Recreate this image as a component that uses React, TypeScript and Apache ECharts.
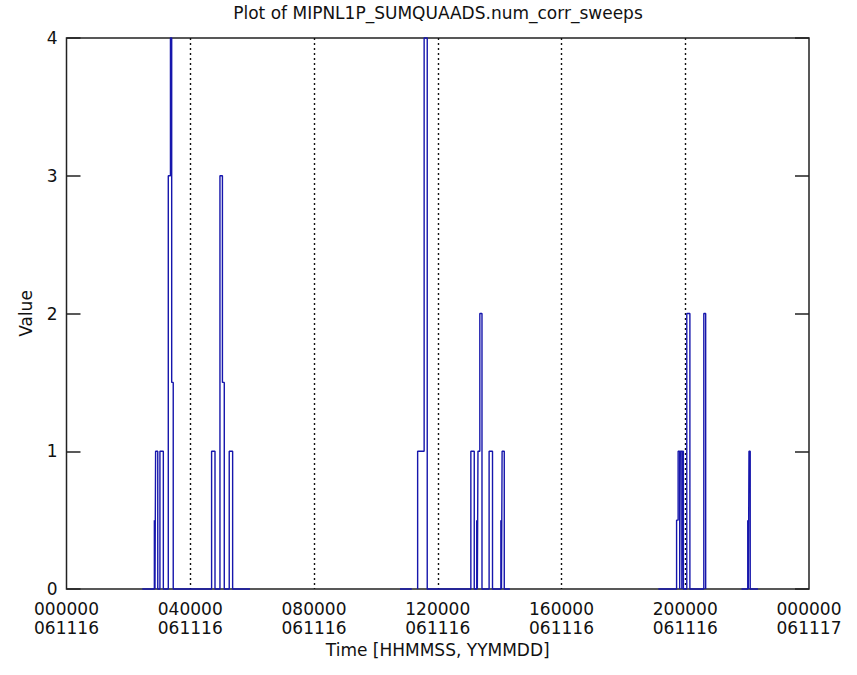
import React, { useEffect, useRef } from "react";
import * as echarts from "echarts";

const TITLE = "Plot of MIPNL1P_SUMQUAADS.num_corr_sweeps";
const X_NAME = "Time [HHMMSS, YYMMDD]";
const Y_NAME = "Value";

const hourTicks = [0, 4, 8, 12, 16, 20, 24];
const timeLabels = ["000000", "040000", "080000", "120000", "160000", "200000", "000000"];
const dateLabels = ["061116", "061116", "061116", "061116", "061116", "061116", "061117"];

// Step edges in hours since 000000 061116: value holds from time until the next time.
const cluster1Times = [2.45, 2.84, 2.86, 2.88, 2.95, 3.02, 3.13, 3.29, 3.36, 3.40, 3.45, 4.69, 4.80, 4.96, 5.04, 5.10, 5.26, 5.37, 5.93, 5.93];
const cluster1Values = [0, 0.5, 0, 1, 0, 1, 0, 3, 4, 1.5, 0, 1, 0, 3, 1.5, 0, 1, 0, 0, null];

const cluster2Times = [10.78, 11.16, 11.16, 11.35, 11.35, 11.56, 11.66, 13.07, 13.18, 13.26, 13.28, 13.30, 13.36, 13.43, 13.66, 13.77, 14.04, 14.06, 14.08, 14.15, 14.33, 14.33];
const cluster2Values = [0, 0, null, 0, 1, 4, 0, 1, 0, 0.5, 0, 1, 2, 0, 1, 0, 0.5, 0, 1, 0, 0, null];

const cluster3Times = [19.13, 19.72, 19.77, 19.82, 19.84, 19.89, 19.91, 19.94, 20.05, 20.15, 20.60, 20.66, 20.66, 21.82, 22.02, 22.04, 22.06, 22.10, 22.35];
const cluster3Values = [0, 0.5, 1, 0, 1, 0, 1, 0, 2, 0, 2, 0, null, 0, 0.5, 0, 1, 0, 0];

const FONT = "DejaVu Sans";

export default function App() {
  const ref = useRef<HTMLDivElement>(null);

  useEffect(() => {
    document.body.style.margin = "0";
    if (!ref.current) return;
    const chart = echarts.init(ref.current, undefined, { renderer: "svg" });

    const times = [...cluster1Times, ...cluster2Times, ...cluster3Times];
    const values = [...cluster1Values, ...cluster2Values, ...cluster3Values];
    const data = times.map((t, i) => [t, values[i]]);

    chart.setOption({
      animation: false,
      backgroundColor: "#ffffff",
      textStyle: { fontFamily: FONT },
      graphic: [
        {
          type: "text",
          x: 438,
          y: 4,
          style: {
            text: TITLE,
            textAlign: "center",
            textVerticalAlign: "top",
            font: `17px "${FONT}"`,
            fill: "#111111",
          },
        },
      ],
      grid: {
        left: 66.5,
        right: 48,
        top: 38,
        bottom: 86,
        containLabel: false,
        outerBoundsMode: "none",
        show: true,
        borderColor: "#222222",
        borderWidth: 1.5,
        backgroundColor: "transparent",
      },
      xAxis: {
        type: "value",
        min: 0,
        max: 24,
        interval: 4,
        name: X_NAME,
        nameLocation: "middle",
        nameGap: 51,
        nameTextStyle: { fontFamily: FONT, fontSize: 17, color: "#111111" },
        axisLine: { show: false },
        axisTick: { show: false },
        axisLabel: {
          margin: 10,
          fontFamily: FONT,
          fontSize: 17,
          lineHeight: 19,
          color: "#111111",
          formatter: (v: number) => {
            const i = hourTicks.indexOf(v);
            return i >= 0 ? `${timeLabels[i]}\n${dateLabels[i]}` : "";
          },
        },
        splitLine: {
          show: true,
          showMinLine: false,
          showMaxLine: false,
          lineStyle: { color: "#111111", width: 1.4, type: [2, 3] },
        },
      },
      yAxis: [
        {
          type: "value",
          min: 0,
          max: 4,
          interval: 1,
          position: "left",
          name: Y_NAME,
          nameLocation: "middle",
          nameGap: 32,
          nameRotate: 90,
          nameTextStyle: { fontFamily: FONT, fontSize: 17, color: "#111111" },
          axisLine: { show: false },
          axisTick: { show: true, inside: true, length: 14, lineStyle: { color: "#222222", width: 1.5 } },
          axisLabel: { margin: 9, fontFamily: FONT, fontSize: 17, color: "#111111" },
          splitLine: { show: false },
        },
        {
          type: "value",
          min: 0,
          max: 4,
          interval: 1,
          position: "right",
          axisLine: { show: false },
          axisTick: { show: true, inside: true, length: 14, lineStyle: { color: "#222222", width: 1.5 } },
          axisLabel: { show: false },
          splitLine: { show: false },
        },
      ],
      series: [
        {
          type: "line",
          step: "end",
          yAxisIndex: 0,
          data,
          showSymbol: false,
          symbol: "none",
          connectNulls: false,
          clip: false,
          lineStyle: { color: "#1616ac", width: 1.4 },
          z: 5,
        },
      ],
    });

    return () => chart.dispose();
  }, []);

  return <div ref={ref} style={{ width: 857, height: 675 }} />;
}
